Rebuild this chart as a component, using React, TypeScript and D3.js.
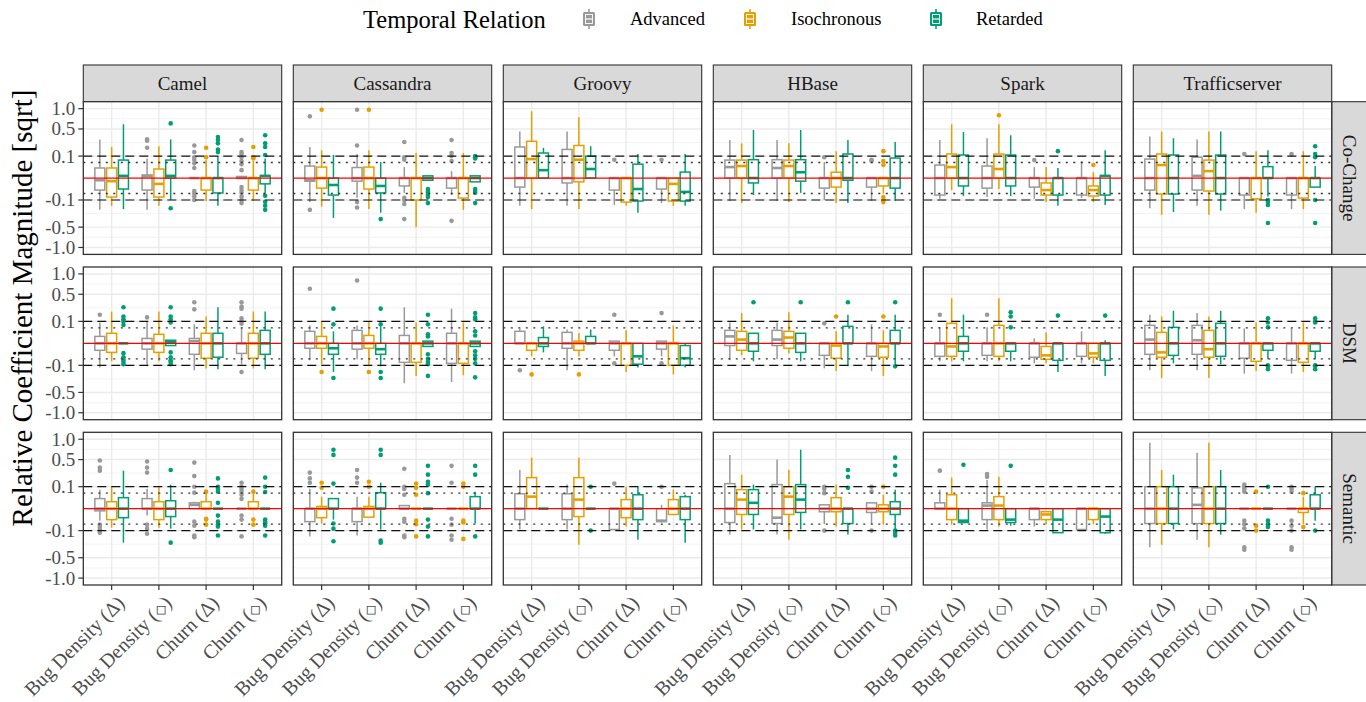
import * as d3 from 'd3';

// [lower whisker, q1, median, q3, upper whisker, outliers]
type Box = [number, number, number, number, number, number[]];

const projects = ['Camel', 'Cassandra', 'Groovy', 'HBase', 'Spark', 'Trafficserver'];
const relations = ['Co-Change', 'DSM', 'Semantic'];
const metricNames = ['Bug Density', 'Bug Density', 'Churn', 'Churn'];
const metricSymbols = ['\u0394', '\u25C7', '\u0394', '\u25C7'];
const temporal = ['Advanced', 'Isochronous', 'Retarded'];
const colors = ['#999999', '#E69F00', '#009E73'];
const yTicks = [1, 0.5, 0.1, -0.1, -0.5, -1];
const yMinor = [0.854, 0.512, -0.512, -0.854]; // already on sqrt scale
const refDashed = [0.1, -0.1];
const refDotted = [0.05, -0.05];

// per project: 4 metrics x 3 temporal relations (Advanced, Isochronous, Retarded)
const coChange: Record<string, Box[]> = {
  Camel: [
    [-0.21, -0.03, -0.001, 0.021, 0.31, []],
    [-0.16, -0.075, -0.002, 0.021, 0.2, []],
    [-0.2, -0.025, 0.001, 0.067, 0.6, []],
    [-0.21, -0.03, 0.0006, 0.002, 0.08, [0.19, 0.29, 0.31]],
    [-0.16, -0.075, -0.007, 0.017, 0.21, []],
    [-0.1, 0, 0.001, 0.067, 0.31, [0.62, -0.19]],
    [0, 0, 0, 0, 0, [0.22, 0.14, 0.09, 0.07, 0.045, 0.021, -0.035, -0.05, -0.07, -0.1]],
    [-0.11, -0.03, 0, 0, 0.07, [0.19, 0.09]],
    [-0.16, -0.046, 0, 0, 0.1, [0.35, 0.3, 0.25, 0.17, 0.14]],
    [0, 0, 0, 0.0005, 0.0005, [0.3, 0.14, 0.12, 0.09, 0.06, 0.04, 0.013, -0.017, -0.03, -0.045, -0.07, -0.1, -0.13]],
    [-0.11, -0.03, 0, 0, 0.06, [0.2, 0.09, 0.08]],
    [-0.05, -0.007, 0.001, 0.001, 0.08, [0.38, 0.25, 0.2, 0.11, -0.065, -0.116, -0.158, -0.21]],
  ],
  Cassandra: [
    [-0.12, -0.002, -0.001, 0.03, 0.2, [0.79, -0.21]],
    [-0.17, -0.021, 0, 0.025, 0.16, [0.97]],
    [-0.33, -0.06, -0.01, 0, 0.11, []],
    [-0.08, -0.002, 0, 0.023, 0.12, [0.97, 0.22, -0.12, -0.18]],
    [-0.2, -0.025, 0, 0.025, 0.16, [0.97]],
    [-0.25, -0.046, -0.013, 0, 0.053, [-0.35]],
    [-0.046, -0.013, 0, 0, 0.025, [0.27, 0.09, 0.07, -0.08, -0.1, -0.14, -0.35]],
    [-0.5, -0.1, 0, 0, 0.13, []],
    [-0.001, -0.001, 0, 0.001, 0.001, [-0.025, -0.035, -0.045, -0.06, -0.075, -0.13]],
    [-0.06, -0.021, 0, 0, 0.01, [0.3, 0.13, 0.1, 0.06, -0.38]],
    [-0.21, -0.083, 0, 0, 0.13, []],
    [-0.003, -0.003, 0, 0.001, 0.001, [0.1, 0.09, 0.08, -0.025, -0.035, -0.045, -0.13]],
  ],
  Groovy: [
    [-0.16, -0.017, 0, 0.2, 0.45, []],
    [-0.2, 0, 0.075, 0.28, 0.93, []],
    [0, 0, 0.013, 0.13, 0.19, []],
    [-0.16, -0.005, 0, 0.17, 0.45, []],
    [-0.2, -0.003, 0.07, 0.22, 0.77, []],
    [0, 0, 0.017, 0.1, 0.21, []],
    [-0.15, -0.03, 0, 0, 0, [0.07]],
    [-0.16, -0.12, 0, 0, 0, []],
    [-0.25, -0.11, -0.025, 0.04, 0.12, []],
    [-0.13, -0.025, 0, 0, 0, [0.07]],
    [-0.16, -0.11, -0.007, 0, 0, []],
    [-0.16, -0.11, -0.04, 0.0074, 0.12, []],
  ],
  HBase: [
    [-0.11, 0, 0.025, 0.067, 0.3, []],
    [-0.13, 0, 0.03, 0.067, 0.25, []],
    [-0.06, -0.005, 0, 0.07, 0.48, []],
    [-0.11, 0, 0.021, 0.07, 0.3, []],
    [-0.12, 0, 0.03, 0.067, 0.25, []],
    [-0.046, -0.002, 0.007, 0.07, 0.48, []],
    [-0.1, -0.021, 0, 0, 0.053, [0.09]],
    [-0.13, -0.017, 0, 0.007, 0.15, []],
    [-0.13, -0.001, 0, 0.12, 0.3, []],
    [-0.11, -0.017, 0, 0, 0, [0.07, 0.06]],
    [-0.05, -0.013, 0, 0, 0, [0.15, 0.06, 0.035, -0.075, -0.1, -0.12]],
    [-0.11, -0.021, 0, 0.083, 0.27, []],
  ],
  Spark: [
    [-0.09, -0.06, 0, 0.035, 0.3, []],
    [-0.03, 0, 0.025, 0.12, 0.6, []],
    [-0.067, -0.013, 0, 0.11, 0.44, []],
    [-0.075, -0.021, 0, 0.03, 0.33, []],
    [-0.025, 0, 0.017, 0.12, 0.6, [0.82]],
    [-0.067, -0.013, 0, 0.11, 0.38, []],
    [-0.09, -0.017, 0, 0, 0.025, [0.067]],
    [-0.12, -0.06, -0.03, -0.005, 0.025, []],
    [-0.16, -0.06, 0, 0, 0.021, [0.15]],
    [-0.083, -0.06, 0, 0, 0.06, []],
    [-0.12, -0.067, -0.03, -0.013, 0.007, [0.035]],
    [-0.15, -0.06, 0.001, 0.001, 0.16, []],
  ],
  Trafficserver: [
    [-0.19, -0.03, 0, 0.075, 0.36, []],
    [-0.28, -0.053, 0.035, 0.12, 0.45, []],
    [-0.24, -0.053, 0, 0.11, 0.33, []],
    [-0.16, -0.03, 0.001, 0.09, 0.31, []],
    [-0.28, -0.035, 0.01, 0.067, 0.45, []],
    [-0.22, -0.053, 0, 0.11, 0.45, []],
    [-0.2, -0.06, 0, 0, 0, [0.12]],
    [-0.25, -0.09, 0, 0, 0.15, []],
    [-0.07, 0, 0, 0.027, 0.16, [-0.1, -0.12, -0.15, -0.42]],
    [-0.2, -0.06, 0, 0, 0, [0.12]],
    [-0.2, -0.083, 0, 0, 0.15, []],
    [-0.017, -0.017, 0, 0, 0.03, [0.21, 0.12, 0.09, -0.1, -0.42]],
  ],
};

const dsm: Record<string, Box[]> = {
  Camel: [
    [-0.12, -0.01, 0, 0.01, 0.09, [0.17]],
    [-0.067, -0.017, 0, 0.021, 0.21, []],
    [0, 0, 0, 0, 0, [0.27, 0.15, 0.12, 0.1, 0.07, -0.02, -0.04, -0.055, -0.07, -0.09]],
    [-0.11, -0.007, 0, 0.005, 0.1, [0.14]],
    [-0.067, -0.017, 0, 0.017, 0.21, []],
    [-0.001, -0.001, 0.0005, 0.002, 0.002, [0.27, 0.15, 0.12, 0.09, -0.017, -0.04, -0.06, -0.07, -0.09]],
    [-0.15, -0.025, 0.001, 0.005, 0.075, [0.35, 0.24]],
    [-0.13, -0.046, 0, 0.021, 0.15, []],
    [-0.14, -0.04, 0, 0.021, 0.27, []],
    [-0.09, -0.021, 0, 0, 0.053, [0.35, 0.28, 0.25, 0.13, 0.1, 0.08, -0.17]],
    [-0.13, -0.046, 0, 0.021, 0.21, []],
    [-0.14, -0.025, 0, 0.035, 0.21, []],
  ],
  Cassandra: [
    [-0.06, -0.005, 0, 0.03, 0.067, [0.62]],
    [-0.09, -0.005, 0, 0.01, 0.1, [-0.17]],
    [-0.17, -0.025, -0.005, 0, 0.03, [0.25, 0.075, -0.25]],
    [-0.053, -0.007, 0, 0.035, 0.067, [0.82]],
    [-0.1, -0.005, 0, 0.013, 0.1, [-0.17]],
    [-0.11, -0.025, -0.007, 0, 0.06, [0.25, 0.075, -0.17, -0.25]],
    [-0.33, -0.075, 0, 0.013, 0.27, []],
    [-0.22, -0.075, 0, 0, 0.09, []],
    [-0.002, -0.002, 0, 0.001, 0.001, [0.17, 0.075, 0.017, 0.01, -0.025, -0.05, -0.07, -0.09, -0.22]],
    [-0.31, -0.083, 0, 0.021, 0.25, []],
    [-0.21, -0.083, 0, 0, 0.09, []],
    [-0.002, -0.002, 0, 0.001, 0.001, [0.19, 0.14, 0.12, 0.03, 0.013, -0.013, -0.03, -0.05, -0.083, -0.24]],
  ],
  Groovy: [
    [0, 0, 0, 0.03, 0.046, [-0.15]],
    [-0.035, -0.01, 0, 0, 0, [-0.2]],
    [-0.017, -0.002, 0, 0.007, 0.06, []],
    [-0.15, -0.005, 0, 0.025, 0.04, []],
    [-0.035, -0.01, 0, 0.001, 0.021, [-0.2]],
    [0, 0, 0, 0.01, 0.04, []],
    [-0.035, -0.01, 0, 0.001, 0.001, [0.17, -0.083]],
    [-0.17, -0.1, 0, 0, 0.035, []],
    [-0.12, -0.09, -0.035, 0, 0, []],
    [-0.035, -0.007, 0, 0.001, 0.001, [0.19, -0.083]],
    [-0.2, -0.1, 0, 0, 0.067, []],
    [-0.12, -0.1, -0.046, -0.001, 0, []],
  ],
  HBase: [
    [-0.06, -0.001, 0.01, 0.035, 0.09, []],
    [-0.03, -0.01, 0.003, 0.03, 0.19, []],
    [-0.067, -0.013, 0, 0.021, 0.021, [0.35]],
    [-0.053, -0.001, 0.003, 0.035, 0.09, []],
    [-0.021, -0.005, 0.007, 0.03, 0.2, []],
    [-0.067, -0.017, 0, 0.021, 0.021, [0.35]],
    [-0.13, -0.03, 0, 0, 0, [0.083]],
    [-0.16, -0.046, -0.001, 0, 0.03, [0.15]],
    [-0.11, 0, 0, 0.06, 0.17, [0.35]],
    [-0.16, -0.035, 0, 0, 0.075, []],
    [-0.22, -0.04, -0.002, 0, 0.035, [0.15]],
    [-0.09, 0, 0, 0.035, 0.17, [0.35, -0.11]],
  ],
  Spark: [
    [-0.067, -0.035, 0, 0, 0.053, [0.17]],
    [-0.067, -0.035, -0.002, 0.083, 0.42, []],
    [-0.067, -0.013, 0, 0.01, 0.17, []],
    [-0.067, -0.03, 0, 0, 0.053, [0.17]],
    [-0.067, -0.035, 0, 0.067, 0.42, []],
    [-0.067, -0.013, 0, 0, 0, [0.2, 0.15, 0.053]],
    [-0.083, -0.04, 0, 0, 0.005, []],
    [-0.083, -0.053, -0.03, -0.002, 0.025, []],
    [-0.17, -0.06, 0, 0, 0, [0.16]],
    [-0.083, -0.035, 0, 0, 0.03, []],
    [-0.083, -0.04, -0.021, 0, 0, []],
    [-0.22, -0.06, 0, 0, 0.002, [0.16]],
  ],
  Trafficserver: [
    [-0.15, -0.025, 0.003, 0.067, 0.17, []],
    [-0.25, -0.04, -0.017, 0.025, 0.15, []],
    [-0.083, -0.03, 0, 0.053, 0.22, []],
    [-0.15, -0.025, 0.002, 0.067, 0.19, []],
    [-0.25, -0.04, -0.007, 0.035, 0.15, []],
    [-0.09, -0.035, 0, 0.083, 0.22, []],
    [-0.19, -0.046, 0, 0, 0.046, []],
    [-0.16, -0.067, 0, 0, 0.09, []],
    [-0.053, -0.01, 0, 0, 0, [0.13, 0.09, 0.053, -0.1, -0.11, -0.14]],
    [-0.19, -0.06, 0, 0, 0.046, []],
    [-0.17, -0.075, 0, 0, 0.09, []],
    [-0.053, -0.013, 0, 0, 0, [0.13, 0.1, 0.09, -0.1, -0.11, -0.14]],
  ],
};

const semantic: Record<string, Box[]> = {
  Camel: [
    [-0.03, -0.001, 0, 0.021, 0.075, [0.48, 0.35, 0.3, -0.053, -0.07, -0.09, -0.12]],
    [-0.075, -0.025, 0, 0.01, 0.1, []],
    [-0.24, -0.017, 0, 0.025, 0.3, []],
    [-0.01, 0, 0, 0.021, 0.083, [0.46, 0.35, 0.27, -0.053, -0.083, -0.13]],
    [-0.075, -0.025, 0, 0.01, 0.1, []],
    [-0.083, -0.013, 0, 0.013, 0.12, [0.31, -0.24]],
    [0, 0, 0.003, 0.007, 0.01, [0.44, 0.22, 0.1, 0.053, -0.035, -0.06, -0.15, -0.17]],
    [0, 0, 0, 0.01, 0.05, [0.06, -0.021, -0.025, -0.053]],
    [0, 0, 0, 0, 0, [0.19, 0.1, 0.08, 0.06, 0.007, -0.01, -0.035, -0.053, -0.067, -0.15]],
    [0, 0, 0, 0, 0, [0.14, 0.1, 0.08, 0.06, 0.04, 0.02, -0.01, -0.025, -0.16]],
    [0, 0, 0, 0.01, 0.05, [0.06, -0.025, -0.053]],
    [0, 0, 0, 0, 0, [0.2, 0.1, 0.058, -0.025, -0.035, -0.045, -0.06, -0.15]],
  ],
  Cassandra: [
    [-0.16, -0.035, 0, 0, 0.083, [0.27, 0.19, 0.14]],
    [-0.046, -0.017, 0, 0.001, 0.03, [0.14, 0.09]],
    [-0.025, 0, 0, 0.021, 0.021, [0.72, 0.6, 0.13, -0.046, -0.083, -0.22]],
    [-0.15, -0.035, 0, 0, 0.03, [0.31, 0.2, 0.14]],
    [-0.015, -0.015, 0, 0.001, 0.03, [0.15, 0.1]],
    [-0.09, 0, 0, 0.053, 0.14, [0.72, 0.6, -0.21, -0.24]],
    [0, 0, 0, 0.002, 0.002, [0.33, 0.1, 0.08, 0.04, -0.021, -0.035, -0.15, -0.17]],
    [0, 0, 0, 0, 0, [0.13, 0.09, 0.04, -0.03, -0.05, -0.16]],
    [0, 0, 0, 0, 0, [0.38, 0.24, 0.15, 0.12, 0.05, -0.025, -0.067, -0.16]],
    [0, 0, 0, 0, 0, [0.38, 0.14, -0.021, -0.053, -0.15, -0.2]],
    [0, 0, 0, 0, 0, [0.13, 0.1, -0.03, -0.04, -0.19]],
    [-0.046, 0, 0, 0.03, 0.06, [0.38, 0.24, -0.16]],
  ],
  Groovy: [
    [-0.09, -0.025, 0, 0.046, 0.31, []],
    [0, 0, 0.03, 0.2, 0.54, []],
    [0, 0, 0, 0, 0, []],
    [-0.09, -0.025, 0, 0.046, 0.12, []],
    [-0.27, -0.013, 0.017, 0.2, 0.54, []],
    [0, 0, 0, 0, 0, [0.1, -0.1]],
    [-0.09, -0.09, 0, 0, 0, [0.13]],
    [-0.067, -0.017, 0, 0.017, 0.1, []],
    [-0.2, -0.025, 0, 0.04, 0.1, []],
    [-0.04, -0.035, -0.03, 0, 0.003, [0.1]],
    [-0.007, -0.007, 0, 0.017, 0.075, []],
    [-0.24, -0.025, 0, 0.03, 0.04, []],
  ],
  HBase: [
    [-0.14, -0.04, 0, 0.13, 0.6, []],
    [-0.09, -0.007, 0.017, 0.075, 0.24, []],
    [-0.09, -0.007, 0.007, 0.075, 0.12, []],
    [-0.14, -0.046, -0.017, 0.12, 0.5, []],
    [-0.2, -0.007, 0.03, 0.1, 0.31, []],
    [-0.09, -0.003, 0.017, 0.12, 0.72, []],
    [-0.05, -0.002, 0, 0.003, 0.003, [0.1, 0.08, 0.05, -0.1]],
    [-0.067, -0.002, 0, 0.025, 0.12, []],
    [-0.14, -0.046, 0, 0, 0, [0.31, 0.21, 0.09]],
    [-0.05, -0.003, 0, 0.007, 0.007, [0.1, 0.06, -0.1]],
    [-0.053, -0.002, 0, 0.003, 0.04, [0.1]],
    [-0.09, -0.007, 0, 0.01, 0.075, [0.54, 0.38, 0.24, -0.1, -0.12, -0.15]],
  ],
  Spark: [
    [0, 0, 0, 0.007, 0.075, [0.3]],
    [-0.053, -0.025, 0, 0.04, 0.2, []],
    [-0.04, -0.04, -0.03, 0, 0, [0.4]],
    [-0.09, -0.025, 0.002, 0.007, 0.17, [0.25, 0.21]],
    [-0.067, -0.025, 0.002, 0.03, 0.21, []],
    [-0.06, -0.04, -0.025, 0, 0, [0.38]],
    [-0.067, -0.025, 0, 0, 0, []],
    [-0.05, -0.025, -0.007, -0.002, -0.002, []],
    [-0.12, -0.12, -0.025, 0, 0, []],
    [-0.09, -0.09, 0, 0, 0, []],
    [-0.05, -0.025, 0, 0, 0, []],
    [-0.13, -0.12, -0.013, 0, 0, []],
  ],
  Trafficserver: [
    [-0.31, -0.046, 0, 0.1, 0.9, []],
    [-0.27, -0.046, 0, 0.1, 0.31, []],
    [-0.09, -0.046, 0, 0.1, 0.24, []],
    [-0.2, -0.046, 0.003, 0.09, 0.65, []],
    [-0.31, -0.046, 0, 0.1, 0.9, []],
    [-0.14, -0.046, 0, 0.1, 0.31, []],
    [0, 0, 0, 0, 0, [0.12, 0.1, 0.08, 0.06, -0.03, -0.05, -0.08, -0.31, -0.35]],
    [0, 0, 0, 0, 0, [0.06, -0.06, -0.1]],
    [0, 0, 0, 0, 0, [0.1, -0.03, -0.05, -0.07]],
    [0, 0, 0, 0, 0, [0.1, 0.08, 0.06, -0.03, -0.06, -0.1, -0.31, -0.35]],
    [-0.05, -0.003, 0, 0, 0.03, [0.05, -0.07]],
    [-0.03, 0, 0, 0.04, 0.1, [-0.1]],
  ],
};

const W = 1366;
const H = 702;
const panelX0 = 83.3;
const panelW = 198.4;
const panelStep = 210;
const panelY0 = 101.7;
const panelH = 152.7;
const rowStep = 165.3;
const stripTop = 65;
const FONT = '"Liberation Serif", "DejaVu Serif", serif';
const SYMBOL_FONT = '"DejaVu Sans", "Noto Sans CJK JP", sans-serif';

const signedSqrt = (v: number) => Math.sign(v) * Math.sqrt(Math.abs(v));

export default function App() {
  const x = d3.scaleLinear().domain([0.4, 4.6]).range([0, panelW]);
  const yS = d3.scaleLinear().domain([-1.1, 1.1]).range([panelH, 0]);
  const y = (v: number) => yS(signedSqrt(v));
  const rowData = [coChange, dsm, semantic];
  const hw = 5.0;
  const lastRowY = panelY0 + 2 * rowStep + panelH;

  return (
    <svg
      width={W}
      height={H}
      style={{ position: 'absolute', left: 0, top: 0, background: '#fff' }}
      fontFamily={FONT}
    >
      {/* legend */}
      <g>
        <text x={363} y={19} fontSize={24.5} dominantBaseline="central" fill="#000">
          Temporal Relation
        </text>
        {temporal.map((t, i) => {
          const kx = [589, 750, 936][i];
          const lx = [630, 791, 976][i];
          return (
            <g key={t}>
              <line x1={kx} x2={kx} y1={9} y2={29} stroke={colors[i]} strokeWidth={1.6} />
              <rect x={kx - 6} y={12} width={12} height={14} rx={1.5} fill={colors[i]} />
              <rect x={kx - 3.5} y={14.5} width={7} height={9} fill="none" stroke="#fff" strokeWidth={0.9} />
              <line x1={kx - 3.5} x2={kx + 3.5} y1={19} y2={19} stroke="#fff" strokeWidth={1.2} />
              <text x={lx} y={19} fontSize={18.5} dominantBaseline="central" fill="#000">
                {t}
              </text>
            </g>
          );
        })}
      </g>

      {/* y axis title */}
      <text
        transform="translate(22,308) rotate(-90)"
        textAnchor="middle"
        dominantBaseline="central"
        fontSize={29}
        fill="#000"
      >
        Relative Coefficient Magnitude [sqrt]
      </text>

      {/* top strips */}
      {projects.map((p, ci) => {
        const px = panelX0 + ci * panelStep;
        return (
          <g key={p}>
            <rect x={px} y={stripTop} width={panelW} height={panelY0 - stripTop} fill="#D9D9D9" stroke="#333333" strokeWidth={1.1} />
            <text x={px + panelW / 2} y={(stripTop + panelY0) / 2} textAnchor="middle" dominantBaseline="central" fontSize={19} fill="#1A1A1A">
              {p}
            </text>
          </g>
        );
      })}

      {/* right strips */}
      {relations.map((r, ri) => {
        const py = panelY0 + ri * rowStep;
        const sx = panelX0 + 5 * panelStep + panelW;
        return (
          <g key={r}>
            <rect x={sx} y={py} width={40} height={panelH} fill="#D9D9D9" stroke="#333333" strokeWidth={1.1} />
            <text
              transform={`translate(${sx + 17.5},${py + panelH / 2}) rotate(90)`}
              textAnchor="middle"
              dominantBaseline="central"
              fontSize={19}
              fill="#1A1A1A"
            >
              {r}
            </text>
          </g>
        );
      })}

      {/* panels */}
      {relations.map((r, ri) =>
        projects.map((p, ci) => {
          const px = panelX0 + ci * panelStep;
          const py = panelY0 + ri * rowStep;
          const boxes = rowData[ri][p];
          return (
            <g key={r + p} transform={`translate(${px},${py})`}>
              <rect width={panelW} height={panelH} fill="#fff" />
              {yMinor.map((m) => (
                <line key={'mi' + m} x1={0} x2={panelW} y1={yS(m)} y2={yS(m)} stroke="#F0F0F0" strokeWidth={0.8} />
              ))}
              {yTicks.map((t) => (
                <line key={'ma' + t} x1={0} x2={panelW} y1={y(t)} y2={y(t)} stroke="#EBEBEB" strokeWidth={1.4} />
              ))}
              {metricNames.map((m, mi) => (
                <line key={'v' + mi} x1={x(mi + 1)} x2={x(mi + 1)} y1={0} y2={panelH} stroke="#EBEBEB" strokeWidth={1.4} />
              ))}

              {boxes.map((b, bi) => {
                const mi = Math.floor(bi / 3);
                const ti = bi % 3;
                const cx = x(mi + 1 + (ti - 1) * 0.25);
                const c = colors[ti];
                const [lo, q1, med, q3, hi, out] = b;
                return (
                  <g key={bi}>
                    <line x1={cx} x2={cx} y1={y(q3)} y2={y(hi)} stroke={c} strokeWidth={1.5} />
                    <line x1={cx} x2={cx} y1={y(q1)} y2={y(lo)} stroke={c} strokeWidth={1.5} />
                    <rect
                      x={cx - hw}
                      y={y(q3)}
                      width={hw * 2}
                      height={Math.max(0, y(q1) - y(q3))}
                      fill="#fff"
                      stroke={c}
                      strokeWidth={1.5}
                    />
                    <line x1={cx - hw} x2={cx + hw} y1={y(med)} y2={y(med)} stroke={c} strokeWidth={2.6} />
                    {out.map((o, oi) => (
                      <circle key={oi} cx={cx} cy={y(o)} r={2.3} fill={c} />
                    ))}
                  </g>
                );
              })}

              {refDashed.map((v) => (
                <line key={'d' + v} x1={0} x2={panelW} y1={y(v)} y2={y(v)} stroke="#111" strokeWidth={1.2} strokeDasharray="9 5" />
              ))}
              {refDotted.map((v) => (
                <line key={'o' + v} x1={0} x2={panelW} y1={y(v)} y2={y(v)} stroke="#333" strokeWidth={1.4} strokeDasharray="2 5.5" />
              ))}
              <line x1={0} x2={panelW} y1={y(0)} y2={y(0)} stroke="#FF0000" strokeWidth={1.2} />
              <rect width={panelW} height={panelH} fill="none" stroke="#333333" strokeWidth={1.3} />

              {ci === 0 &&
                yTicks.map((t) => (
                  <g key={'yt' + t}>
                    <line x1={-5} x2={0} y1={y(t)} y2={y(t)} stroke="#333333" strokeWidth={1.2} />
                    <text x={-8} y={y(t)} textAnchor="end" dominantBaseline="central" fontSize={19} fill="#4D4D4D">
                      {d3.format('.1f')(t).replace('\u2212', '-')}
                    </text>
                  </g>
                ))}
            </g>
          );
        })
      )}

      {/* x axis ticks and labels */}
      {projects.map((p, ci) => {
        const px = panelX0 + ci * panelStep;
        return metricNames.map((m, mi) => {
          const tx = px + x(mi + 1);
          const isDiamond = metricSymbols[mi] === '\u25C7';
          return (
            <g key={p + mi}>
              <line x1={tx} x2={tx} y1={lastRowY} y2={lastRowY + 5} stroke="#333333" strokeWidth={1.2} />
              <text
                transform={`translate(${tx + 4},${lastRowY + 9}) rotate(-45)`}
                textAnchor="end"
                dy="0.72em"
                fontSize={20}
                fill="#4D4D4D"
              >
                {m} (
                <tspan fontFamily={isDiamond ? SYMBOL_FONT : undefined} fontSize={isDiamond ? 16 : undefined}>
                  {metricSymbols[mi]}
                </tspan>
                )
              </text>
            </g>
          );
        });
      })}
    </svg>
  );
}
